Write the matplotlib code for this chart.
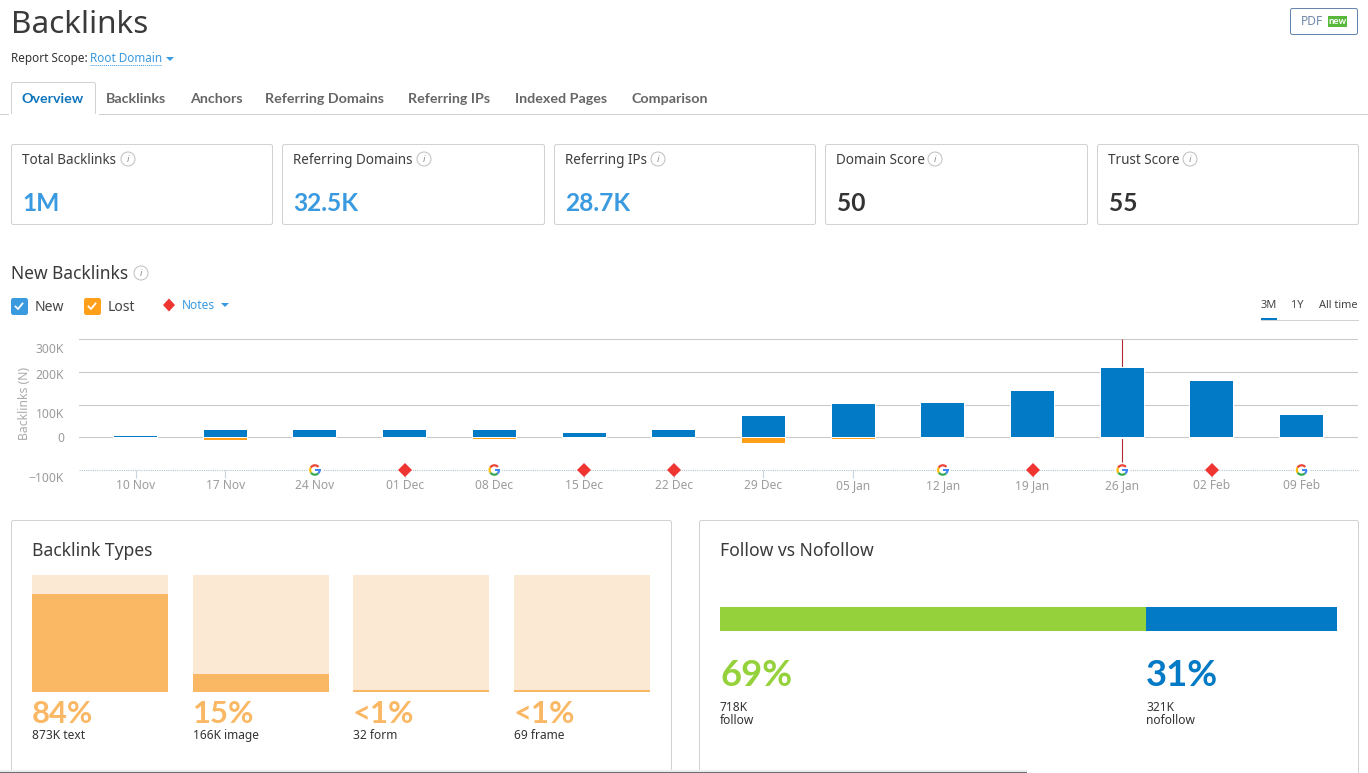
import numpy as np
import matplotlib
matplotlib.use("Agg")
import matplotlib.pyplot as plt
from matplotlib.patches import FancyBboxPatch, Circle, Polygon, Rectangle, PathPatch
from matplotlib.path import Path
from matplotlib.transforms import Affine2D, ScaledTranslation

plt.rcParams['font.family'] = ['Noto Sans', 'DejaVu Sans']
BOLD = ['Lato', 'DejaVu Sans']

# ---- data ----
weeks = ['10 Nov','17 Nov','24 Nov','01 Dec','08 Dec','15 Dec','22 Dec','29 Dec','05 Jan','12 Jan','19 Jan','26 Jan','02 Feb','09 Feb']
new_links = [4, 22, 22, 22, 22, 13, 22, 64, 101, 104, 141, 212, 172, 68]
lost_links = [0, 6, 0, 0, 2, 0, 0, 16, 3, 0, 0, 0, 0, 0]
notes = ['', '', 'G', 'D', 'G', 'D', 'D', '', '', 'G', 'D', 'G', 'D', 'G']
y_ticks = [300, 200, 100, 0, -100]
y_labels = ['300K', '200K', '100K', '0', '\u2212100K']
cards = ['Total Backlinks', 'Referring Domains', 'Referring IPs', 'Domain Score', 'Trust Score']
card_values = ['1M', '32.5K', '28.7K', '50', '55']
tabs = ['Overview', 'Backlinks', 'Anchors', 'Referring Domains', 'Referring IPs', 'Indexed Pages', 'Comparison']
type_shares = [84, 15, 1.5, 1.5]
type_pct = ['84%', '15%', '<1%', '<1%']
type_desc = ['873K text', '166K image', '32 form', '69 frame']
follow_shares = [69, 31]
follow_pct = ['69%', '31%']
follow_desc = ['718K\nfollow', '321K\nnofollow']

# ---- style ----
W, H = 1368, 773
BLUE, ORANGE = '#037ac5', '#ff9f1a'
LBLUE, DARK, GREY = '#3a9ae0', '#333333', '#9c9c9c'
BORDER = '#d2d2d2'
PEACH, PEACH_D = '#fce9d3', '#fab865'
GREEN = '#95d13a'
RED = '#ee3532'

fig = plt.figure(figsize=(W/100, H/100), dpi=100, facecolor='white')
ui = fig.add_axes([0, 0, 1, 1], zorder=0)
ui.set_xlim(0, W); ui.set_ylim(H, 0); ui.axis('off')

def ax_px(l, t, r, b):
    a = fig.add_axes([l/W, 1-b/H, (r-l)/W, (b-t)/H], zorder=2)
    a.patch.set_alpha(0)
    return a

def T(x, y, s, px, c=DARK, w='normal', ha='left', **k):
    if w == 'bold':
        k['family'] = BOLD
    return ui.text(x, y, s, fontsize=px*0.72, color=c, fontweight=w, ha=ha, va='baseline', **k)

def box(l, t, r, b, ec=BORDER, fc='white', lw=0.72, rad=2):
    ui.add_patch(FancyBboxPatch((l+0.5, t+0.5), r-l, b-t, boxstyle=f'round,pad=0,rounding_size={rad}',
                                ec=ec, fc=fc, lw=lw))

def info(x, y):
    ui.add_patch(Circle((x, y), 7, fc='white', ec='#bdbdbd', lw=0.7))
    ui.text(x, y+0.3, 'i', fontsize=7, color='#8f8f8f', style='italic', ha='center', va='center')

def tri(x, y, c=LBLUE):
    ui.add_patch(Polygon([(x, y), (x+8, y), (x+4, y+4)], fc=c, ec='none'))

def check(l, t, c):
    box(l, t, l+16, t+16, ec=c, fc=c, rad=2)
    ui.plot([l+4.5, l+7, l+11.5], [t+8.5, t+11, t+5.5], color='white', lw=1.3)

# ---- header ----
T(11, 33, 'Backlinks', 31.5, '#3a3a3a')
T(11, 62, 'Report Scope:', 11.7)
T(90, 62, 'Root Domain', 11.7, LBLUE)
ui.plot([90, 162], [64.5, 64.5], color=LBLUE, lw=0.7, ls=(0, (1, 1)))
tri(166, 57)

box(1290, 8, 1357, 34, ec='#6685ad')
T(1301, 25, 'PDF', 12, '#7088a8')
ui.add_patch(Rectangle((1328, 16), 19, 11, fc='#57b83a', ec='none'))
T(1337.5, 24.5, 'new', 9.5, 'white', 'bold', ha='center')

# ---- tabs ----
tab_x = [22, 106, 190, 265, 408, 515, 631]
ui.plot([0, W], [113.5, 113.5], color=BORDER, lw=0.72)
box(11, 82, 95, 120, ec=BORDER, rad=2)
ui.add_patch(Rectangle((9, 114), 90, 8, fc='white', ec='none', zorder=3))
ui.plot([0, 11], [113.5, 113.5], color=BORDER, lw=0.72)
for i, (x, t) in enumerate(zip(tab_x, tabs)):
    T(x, 103, t, 14.3, '#0f75bc' if i == 0 else '#666666', 'bold')

# ---- cards ----
card_l = [11, 282, 554, 825, 1097]
card_r = [272, 544, 815, 1087, 1358]
card_i = [128, 424, 658, 935, 1190]
for i in range(5):
    box(card_l[i], 144, card_r[i], 224)
    T(card_l[i]+11, 164, cards[i], 13.5, '#3d3d3d')
    info(card_i[i], 159)
    T(card_l[i]+11.5, 211, card_values[i], 24.5, LBLUE if i < 3 else DARK, 'bold')

# ---- new backlinks heading ----
T(11, 279, 'New Backlinks', 17.4, '#3a3a3a')
info(141, 273)
check(11, 298, LBLUE); T(35, 311, 'New', 14, '#444444')
check(84, 298, ORANGE); T(108, 311, 'Lost', 14, '#444444')
ui.add_patch(Polygon([(169, 298.5), (175, 305), (169, 311.5), (163, 305)], fc=RED, ec='none'))
T(182, 309, 'Notes', 12, LBLUE)
tri(221, 303)
T(1261, 308, '3M', 11, '#444444')
T(1291, 308, '1Y', 11, '#444444')
T(1319, 308, 'All time', 11, '#444444')
ui.plot([1261, 1358], [319.5, 319.5], color=BORDER, lw=0.72)
ui.add_patch(Rectangle((1261, 318), 16, 2.5, fc=BLUE, ec='none'))

# ---- main chart ----
ax = ax_px(79, 339, 1358, 470)
x = np.arange(len(weeks))
ax.set_xlim((79-135.5)/89.7, (1358-135.5)/89.7)
ax.set_ylim(-100, 300)
GAP = 2
bw = 43/89.7
for s in ax.spines.values():
    s.set_visible(False)
ax.set_axisbelow(True)
ax.set_yticks(y_ticks, y_labels)
ax.grid(axis='y', color='#c9c9c9', lw=0.8, zorder=1)
ygrid = ax.get_ygridlines()
ygrid[-1].set_visible(False)
ax.axhline(-100, color='#b9c6cf', lw=0.8, ls=(0, (1, 1)), zorder=1, clip_on=False)
ax.set_xticks(x, weeks)
ax.tick_params(axis='x', length=5.5, width=0.8, color='#c5d6e2', labelcolor=GREY, labelsize=8.6, pad=1, direction='out')
ax.tick_params(axis='y', length=0, labelcolor=GREY, labelsize=8.8, pad=10.8)
y_label_shift = [9, 2, 8, 0, 7]
for tick, dy in zip(ax.yaxis.get_major_ticks(), y_label_shift):
    tick.label1.set_transform(tick.label1.get_transform() + Affine2D().translate(0, -dy))
ax.set_ylabel('Backlinks (N)', fontsize=8.8, color='#ababab')
ax.yaxis.set_label_coords((31-79)/1279, (470-403)/131)

hi = weeks.index('26 Jan')
ax.vlines(x[hi], -76, 300, color='#b02a30', lw=0.8, zorder=1.5)
lost_arr = np.array(lost_links)
offset = np.where(lost_arr > 0, GAP, 1)
ax.bar(x, np.array(new_links) + offset, bw, bottom=-offset, color='white', edgecolor='white', lw=1.6, zorder=2)
ax.bar(x, new_links, bw, color=BLUE, zorder=3)
ax.bar(x, -lost_arr, bw, bottom=-GAP, color=ORANGE, zorder=3)

# note markers
dx = [i for i, n in enumerate(notes) if n == 'D']
gx = [i for i, n in enumerate(notes) if n == 'G']
ax.plot(dx, [-100]*len(dx), ls='', marker='D', ms=7.6, mfc=RED, mec=RED, mew=0, zorder=5, clip_on=False)
ax.plot(gx, [-100]*len(gx), ls='', marker='o', ms=9.5, mfc='white', mec='white', zorder=4, clip_on=False)

def ring(a0, a1, r0=0.62, r1=1.0):
    t = np.radians(np.linspace(a0, a1, 24))
    v = np.r_[np.c_[r1*np.cos(t), r1*np.sin(t)], np.c_[r0*np.cos(t[::-1]), r0*np.sin(t[::-1])]]
    return Path(np.r_[v, v[:1]], closed=True)
g_parts = [(ring(40, 150), '#ea4335'), (ring(150, 215), '#fbbc05'), (ring(215, 315), '#34a853'),
           (ring(315, 360), '#4285f4'), (Path([(0.05, 0.2), (1, 0.2), (1, -0.2), (0.05, -0.2), (0.05, 0.2)], closed=True), '#4285f4')]
for i in gx:
    for p, c in g_parts:
        tr = Affine2D().scale(5.8) + ScaledTranslation(i, -100, ax.transData)
        ax.add_patch(PathPatch(p, fc=c, ec='none', transform=tr, zorder=6, clip_on=False))

# ---- lower panels ----
box(11, 520, 671, 790)
box(699, 520, 1358, 790)
T(32, 556, 'Backlink Types', 17.5, '#3a3a3a')
T(720, 556, 'Follow vs Nofollow', 17.5, '#3a3a3a')

ax2 = ax_px(32, 575, 650, 692)
ax2.axis('off')
tx = np.array([100, 261, 421, 582])
ax2.set_xlim(32, 650); ax2.set_ylim(0, 100)
ax2.bar(tx, [100]*4, 136, color=PEACH)
ax2.bar(tx, type_shares, 136, color=PEACH_D)
for xx, p, d in zip(tx-68, type_pct, type_desc):
    T(xx, 723, p, 31, PEACH_D, 'bold')
    T(xx, 739, d, 12, DARK)

ax3 = ax_px(720, 607, 1337, 631)
ax3.axis('off')
ax3.set_xlim(0, 100); ax3.set_ylim(-.5, .5)
ax3.barh([0], [follow_shares[0]], 1, color=GREEN)
ax3.barh([0], [follow_shares[1]], 1, left=follow_shares[0], color=BLUE)
for xx, p, d, c in zip([720, 1146], follow_pct, follow_desc, [GREEN, BLUE]):
    T(xx, 686, p, 36.5, c, 'bold')
    l1, l2 = d.split('\n')
    T(xx, 711, l1, 12, DARK)
    T(xx, 724, l2, 12, DARK)

# bottom edge of the screenshot
ui.add_patch(Rectangle((0, 769.8), 1027, 1.7, fc='#ececec', ec='none', zorder=4))
ui.add_patch(Rectangle((0, 771.5), 1027, 1.5, fc='#6b6b6b', ec='none', zorder=4))

fig.savefig('out.png', dpi=100)
